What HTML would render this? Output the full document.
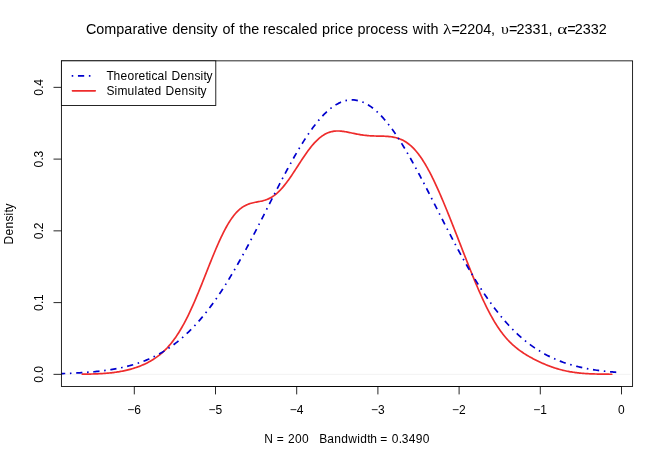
<!DOCTYPE html>
<html><head><meta charset="utf-8"><title>Density plot</title>
<style>
html,body{margin:0;padding:0;background:#fff;}
body{width:664px;height:463px;overflow:hidden;position:relative;font-family:"Liberation Sans",sans-serif;}
svg{will-change:transform;}
text{white-space:pre;}
.g{font-family:"Liberation Serif",serif;}
</style></head><body>
<svg width="664" height="463" viewBox="0 0 664 463" style="position:absolute;left:0;top:0">
<rect width="664" height="463" fill="#fff"/>
<defs><clipPath id="c"><rect x="61.4" y="60.85" width="571.20" height="325.65"/></clipPath></defs>
<line x1="61.4" y1="374.35" x2="630.6" y2="374.35" stroke="#d3d3d3" stroke-width="0.3"/>
<g clip-path="url(#c)" fill="none" stroke-linejoin="round">
<path d="M82.33,374.19 L83.37,374.17 L84.40,374.16 L85.44,374.14 L86.48,374.12 L87.51,374.10 L88.55,374.08 L89.58,374.06 L90.62,374.03 L91.66,374.01 L92.69,373.98 L93.73,373.94 L94.76,373.91 L95.80,373.87 L96.84,373.83 L97.87,373.78 L98.91,373.73 L99.94,373.68 L100.98,373.62 L102.02,373.56 L103.05,373.50 L104.09,373.43 L105.13,373.35 L106.16,373.27 L107.20,373.18 L108.23,373.09 L109.27,372.99 L110.31,372.89 L111.34,372.78 L112.38,372.66 L113.41,372.54 L114.45,372.40 L115.49,372.26 L116.52,372.12 L117.56,371.96 L118.59,371.79 L119.63,371.62 L120.67,371.44 L121.70,371.25 L122.74,371.05 L123.77,370.84 L124.81,370.62 L125.85,370.39 L126.88,370.15 L127.92,369.90 L128.95,369.63 L129.99,369.36 L131.03,369.07 L132.06,368.78 L133.10,368.47 L134.13,368.15 L135.17,367.81 L136.21,367.46 L137.24,367.10 L138.28,366.73 L139.32,366.34 L140.35,365.93 L141.39,365.51 L142.42,365.08 L143.46,364.63 L144.50,364.16 L145.53,363.67 L146.57,363.16 L147.60,362.64 L148.64,362.10 L149.68,361.53 L150.71,360.95 L151.75,360.34 L152.78,359.70 L153.82,359.05 L154.86,358.37 L155.89,357.66 L156.93,356.92 L157.96,356.15 L159.00,355.36 L160.04,354.53 L161.07,353.67 L162.11,352.77 L163.14,351.84 L164.18,350.87 L165.22,349.86 L166.25,348.82 L167.29,347.73 L168.32,346.60 L169.36,345.42 L170.40,344.20 L171.43,342.94 L172.47,341.62 L173.50,340.26 L174.54,338.85 L175.58,337.39 L176.61,335.88 L177.65,334.31 L178.69,332.70 L179.72,331.03 L180.76,329.30 L181.79,327.53 L182.83,325.70 L183.87,323.82 L184.90,321.88 L185.94,319.90 L186.97,317.86 L188.01,315.77 L189.05,313.63 L190.08,311.45 L191.12,309.21 L192.15,306.94 L193.19,304.62 L194.23,302.26 L195.26,299.86 L196.30,297.42 L197.33,294.95 L198.37,292.46 L199.41,289.93 L200.44,287.38 L201.48,284.81 L202.51,282.22 L203.55,279.62 L204.59,277.01 L205.62,274.39 L206.66,271.77 L207.69,269.16 L208.73,266.54 L209.77,263.94 L210.80,261.36 L211.84,258.79 L212.87,256.24 L213.91,253.72 L214.95,251.24 L215.98,248.78 L217.02,246.37 L218.06,244.00 L219.09,241.68 L220.13,239.41 L221.16,237.19 L222.20,235.03 L223.24,232.93 L224.27,230.89 L225.31,228.92 L226.34,227.02 L227.38,225.19 L228.42,223.43 L229.45,221.75 L230.49,220.15 L231.52,218.62 L232.56,217.17 L233.60,215.80 L234.63,214.50 L235.67,213.29 L236.70,212.15 L237.74,211.09 L238.78,210.11 L239.81,209.19 L240.85,208.35 L241.88,207.58 L242.92,206.88 L243.96,206.24 L244.99,205.66 L246.03,205.14 L247.06,204.67 L248.10,204.25 L249.14,203.88 L250.17,203.54 L251.21,203.24 L252.24,202.97 L253.28,202.72 L254.32,202.50 L255.35,202.29 L256.39,202.09 L257.43,201.89 L258.46,201.70 L259.50,201.50 L260.53,201.28 L261.57,201.06 L262.61,200.81 L263.64,200.53 L264.68,200.23 L265.71,199.89 L266.75,199.52 L267.79,199.10 L268.82,198.64 L269.86,198.14 L270.89,197.58 L271.93,196.98 L272.97,196.32 L274.00,195.60 L275.04,194.83 L276.07,194.00 L277.11,193.12 L278.15,192.17 L279.18,191.18 L280.22,190.12 L281.25,189.01 L282.29,187.85 L283.33,186.64 L284.36,185.38 L285.40,184.07 L286.43,182.72 L287.47,181.32 L288.51,179.89 L289.54,178.43 L290.58,176.93 L291.62,175.41 L292.65,173.86 L293.69,172.30 L294.72,170.72 L295.76,169.12 L296.80,167.52 L297.83,165.92 L298.87,164.32 L299.90,162.72 L300.94,161.14 L301.98,159.56 L303.01,158.00 L304.05,156.47 L305.08,154.95 L306.12,153.47 L307.16,152.02 L308.19,150.60 L309.23,149.21 L310.26,147.87 L311.30,146.57 L312.34,145.31 L313.37,144.10 L314.41,142.94 L315.44,141.84 L316.48,140.78 L317.52,139.78 L318.55,138.83 L319.59,137.94 L320.62,137.10 L321.66,136.32 L322.70,135.60 L323.73,134.93 L324.77,134.32 L325.80,133.76 L326.84,133.26 L327.88,132.82 L328.91,132.43 L329.95,132.08 L330.99,131.79 L332.02,131.55 L333.06,131.35 L334.09,131.20 L335.13,131.09 L336.17,131.02 L337.20,130.98 L338.24,130.98 L339.27,131.02 L340.31,131.08 L341.35,131.17 L342.38,131.29 L343.42,131.43 L344.45,131.58 L345.49,131.75 L346.53,131.94 L347.56,132.14 L348.60,132.35 L349.63,132.56 L350.67,132.78 L351.71,133.00 L352.74,133.22 L353.78,133.44 L354.81,133.65 L355.85,133.86 L356.89,134.07 L357.92,134.26 L358.96,134.45 L359.99,134.63 L361.03,134.80 L362.07,134.95 L363.10,135.10 L364.14,135.23 L365.17,135.35 L366.21,135.46 L367.25,135.56 L368.28,135.65 L369.32,135.73 L370.36,135.79 L371.39,135.85 L372.43,135.90 L373.46,135.94 L374.50,135.98 L375.54,136.01 L376.57,136.03 L377.61,136.05 L378.64,136.07 L379.68,136.09 L380.72,136.11 L381.75,136.14 L382.79,136.17 L383.82,136.20 L384.86,136.25 L385.90,136.30 L386.93,136.36 L387.97,136.44 L389.00,136.53 L390.04,136.65 L391.08,136.78 L392.11,136.93 L393.15,137.10 L394.18,137.30 L395.22,137.53 L396.26,137.79 L397.29,138.08 L398.33,138.41 L399.36,138.77 L400.40,139.17 L401.44,139.61 L402.47,140.09 L403.51,140.61 L404.55,141.18 L405.58,141.81 L406.62,142.48 L407.65,143.20 L408.69,143.97 L409.73,144.80 L410.76,145.69 L411.80,146.63 L412.83,147.63 L413.87,148.69 L414.91,149.80 L415.94,150.98 L416.98,152.22 L418.01,153.52 L419.05,154.88 L420.09,156.31 L421.12,157.79 L422.16,159.33 L423.19,160.93 L424.23,162.59 L425.27,164.30 L426.30,166.08 L427.34,167.90 L428.37,169.79 L429.41,171.72 L430.45,173.70 L431.48,175.74 L432.52,177.81 L433.55,179.94 L434.59,182.11 L435.63,184.32 L436.66,186.56 L437.70,188.85 L438.73,191.17 L439.77,193.52 L440.81,195.91 L441.84,198.33 L442.88,200.77 L443.92,203.24 L444.95,205.73 L445.99,208.25 L447.02,210.78 L448.06,213.34 L449.10,215.91 L450.13,218.49 L451.17,221.10 L452.20,223.71 L453.24,226.33 L454.28,228.97 L455.31,231.61 L456.35,234.26 L457.38,236.92 L458.42,239.57 L459.46,242.24 L460.49,244.90 L461.53,247.56 L462.56,250.22 L463.60,252.87 L464.64,255.52 L465.67,258.17 L466.71,260.80 L467.74,263.43 L468.78,266.04 L469.82,268.64 L470.85,271.22 L471.89,273.79 L472.92,276.33 L473.96,278.86 L475.00,281.36 L476.03,283.84 L477.07,286.29 L478.10,288.71 L479.14,291.09 L480.18,293.45 L481.21,295.77 L482.25,298.05 L483.29,300.30 L484.32,302.50 L485.36,304.67 L486.39,306.79 L487.43,308.86 L488.47,310.89 L489.50,312.88 L490.54,314.81 L491.57,316.70 L492.61,318.54 L493.65,320.33 L494.68,322.07 L495.72,323.76 L496.75,325.40 L497.79,326.99 L498.83,328.53 L499.86,330.02 L500.90,331.46 L501.93,332.85 L502.97,334.20 L504.01,335.50 L505.04,336.75 L506.08,337.96 L507.11,339.13 L508.15,340.26 L509.19,341.34 L510.22,342.39 L511.26,343.40 L512.29,344.38 L513.33,345.32 L514.37,346.23 L515.40,347.11 L516.44,347.96 L517.48,348.78 L518.51,349.57 L519.55,350.34 L520.58,351.09 L521.62,351.82 L522.66,352.52 L523.69,353.21 L524.73,353.87 L525.76,354.52 L526.80,355.16 L527.84,355.78 L528.87,356.38 L529.91,356.97 L530.94,357.55 L531.98,358.12 L533.02,358.67 L534.05,359.21 L535.09,359.74 L536.12,360.27 L537.16,360.78 L538.20,361.28 L539.23,361.77 L540.27,362.25 L541.30,362.73 L542.34,363.19 L543.38,363.64 L544.41,364.09 L545.45,364.52 L546.48,364.94 L547.52,365.36 L548.56,365.76 L549.59,366.15 L550.63,366.54 L551.66,366.91 L552.70,367.27 L553.74,367.62 L554.77,367.96 L555.81,368.29 L556.85,368.61 L557.88,368.92 L558.92,369.22 L559.95,369.51 L560.99,369.78 L562.03,370.05 L563.06,370.30 L564.10,370.54 L565.13,370.78 L566.17,371.00 L567.21,371.21 L568.24,371.41 L569.28,371.60 L570.31,371.79 L571.35,371.96 L572.39,372.12 L573.42,372.28 L574.46,372.42 L575.49,372.56 L576.53,372.69 L577.57,372.81 L578.60,372.93 L579.64,373.04 L580.67,373.14 L581.71,373.23 L582.75,373.32 L583.78,373.40 L584.82,373.48 L585.85,373.55 L586.89,373.61 L587.93,373.67 L588.96,373.73 L590.00,373.78 L591.03,373.83 L592.07,373.87 L593.11,373.91 L594.14,373.95 L595.18,373.98 L596.22,374.01 L597.25,374.04 L598.29,374.07 L599.32,374.09 L600.36,374.11 L601.40,374.13 L602.43,374.15 L603.47,374.16 L604.50,374.18 L605.54,374.19 L606.58,374.20 L607.61,374.21 L608.65,374.22 L609.68,374.23 L610.72,374.24 L611.76,374.25" stroke="#ee2c2c" stroke-width="1.7" stroke-linecap="round"/>
<path d="M53.10,373.82 L54.51,373.79 L55.92,373.75 L57.34,373.72 L58.75,373.68 L60.16,373.64 L61.57,373.60 L62.99,373.55 L64.40,373.51 L65.81,373.46 L67.22,373.41 L68.63,373.35 L70.05,373.30 L71.46,373.23 L72.87,373.17 L74.28,373.10 L75.70,373.03 L77.11,372.96 L78.52,372.88 L79.93,372.80 L81.34,372.72 L82.76,372.63 L84.17,372.53 L85.58,372.44 L86.99,372.33 L88.41,372.22 L89.82,372.11 L91.23,371.99 L92.64,371.87 L94.06,371.74 L95.47,371.60 L96.88,371.46 L98.29,371.31 L99.70,371.15 L101.12,370.99 L102.53,370.82 L103.94,370.64 L105.35,370.46 L106.77,370.26 L108.18,370.06 L109.59,369.85 L111.00,369.63 L112.41,369.40 L113.83,369.16 L115.24,368.91 L116.65,368.65 L118.06,368.38 L119.48,368.10 L120.89,367.81 L122.30,367.50 L123.71,367.18 L125.12,366.85 L126.54,366.51 L127.95,366.15 L129.36,365.78 L130.77,365.40 L132.19,365.00 L133.60,364.59 L135.01,364.16 L136.42,363.71 L137.83,363.25 L139.25,362.77 L140.66,362.28 L142.07,361.77 L143.48,361.24 L144.90,360.69 L146.31,360.12 L147.72,359.53 L149.13,358.92 L150.55,358.29 L151.96,357.64 L153.37,356.97 L154.78,356.28 L156.19,355.56 L157.61,354.82 L159.02,354.06 L160.43,353.27 L161.84,352.46 L163.26,351.63 L164.67,350.77 L166.08,349.88 L167.49,348.97 L168.90,348.03 L170.32,347.07 L171.73,346.07 L173.14,345.05 L174.55,344.00 L175.97,342.92 L177.38,341.81 L178.79,340.68 L180.20,339.51 L181.61,338.31 L183.03,337.08 L184.44,335.82 L185.85,334.53 L187.26,333.21 L188.68,331.85 L190.09,330.46 L191.50,329.04 L192.91,327.59 L194.32,326.10 L195.74,324.58 L197.15,323.03 L198.56,321.44 L199.97,319.82 L201.39,318.17 L202.80,316.48 L204.21,314.76 L205.62,313.00 L207.04,311.21 L208.45,309.38 L209.86,307.52 L211.27,305.63 L212.68,303.70 L214.10,301.74 L215.51,299.74 L216.92,297.71 L218.33,295.65 L219.75,293.56 L221.16,291.43 L222.57,289.27 L223.98,287.08 L225.39,284.85 L226.81,282.60 L228.22,280.31 L229.63,278.00 L231.04,275.66 L232.46,273.28 L233.87,270.88 L235.28,268.45 L236.69,266.00 L238.10,263.52 L239.52,261.01 L240.93,258.48 L242.34,255.93 L243.75,253.35 L245.17,250.75 L246.58,248.13 L247.99,245.49 L249.40,242.84 L250.81,240.16 L252.23,237.47 L253.64,234.77 L255.05,232.05 L256.46,229.32 L257.88,226.57 L259.29,223.82 L260.70,221.06 L262.11,218.29 L263.53,215.52 L264.94,212.74 L266.35,209.96 L267.76,207.18 L269.17,204.40 L270.59,201.62 L272.00,198.84 L273.41,196.07 L274.82,193.31 L276.24,190.55 L277.65,187.81 L279.06,185.08 L280.47,182.36 L281.88,179.65 L283.30,176.96 L284.71,174.30 L286.12,171.65 L287.53,169.02 L288.95,166.42 L290.36,163.84 L291.77,161.30 L293.18,158.78 L294.59,156.29 L296.01,153.83 L297.42,151.41 L298.83,149.03 L300.24,146.68 L301.66,144.38 L303.07,142.11 L304.48,139.89 L305.89,137.71 L307.30,135.58 L308.72,133.50 L310.13,131.47 L311.54,129.49 L312.95,127.56 L314.37,125.69 L315.78,123.87 L317.19,122.11 L318.60,120.40 L320.02,118.76 L321.43,117.18 L322.84,115.66 L324.25,114.20 L325.66,112.81 L327.08,111.49 L328.49,110.23 L329.90,109.04 L331.31,107.92 L332.73,106.87 L334.14,105.89 L335.55,104.98 L336.96,104.14 L338.37,103.38 L339.79,102.69 L341.20,102.07 L342.61,101.53 L344.02,101.07 L345.44,100.68 L346.85,100.37 L348.26,100.13 L349.67,99.97 L351.08,99.88 L352.50,99.88 L353.91,99.95 L355.32,100.09 L356.73,100.31 L358.15,100.61 L359.56,100.99 L360.97,101.44 L362.38,101.96 L363.79,102.56 L365.21,103.23 L366.62,103.98 L368.03,104.80 L369.44,105.70 L370.86,106.66 L372.27,107.70 L373.68,108.81 L375.09,109.98 L376.51,111.23 L377.92,112.54 L379.33,113.92 L380.74,115.36 L382.15,116.87 L383.57,118.44 L384.98,120.07 L386.39,121.76 L387.80,123.51 L389.22,125.32 L390.63,127.18 L392.04,129.10 L393.45,131.07 L394.86,133.09 L396.28,135.16 L397.69,137.28 L399.10,139.45 L400.51,141.66 L401.93,143.92 L403.34,146.22 L404.75,148.56 L406.16,150.93 L407.57,153.35 L408.99,155.79 L410.40,158.28 L411.81,160.79 L413.22,163.33 L414.64,165.90 L416.05,168.50 L417.46,171.12 L418.87,173.76 L420.28,176.43 L421.70,179.11 L423.11,181.81 L424.52,184.53 L425.93,187.26 L427.35,190.00 L428.76,192.76 L430.17,195.52 L431.58,198.29 L433.00,201.06 L434.41,203.84 L435.82,206.62 L437.23,209.40 L438.64,212.18 L440.06,214.96 L441.47,217.74 L442.88,220.51 L444.29,223.27 L445.71,226.02 L447.12,228.77 L448.53,231.50 L449.94,234.22 L451.35,236.93 L452.77,239.62 L454.18,242.30 L455.59,244.96 L457.00,247.60 L458.42,250.23 L459.83,252.83 L461.24,255.41 L462.65,257.97 L464.06,260.50 L465.48,263.02 L466.89,265.50 L468.30,267.96 L469.71,270.40 L471.13,272.80 L472.54,275.18 L473.95,277.53 L475.36,279.85 L476.77,282.14 L478.19,284.40 L479.60,286.63 L481.01,288.83 L482.42,291.00 L483.84,293.13 L485.25,295.23 L486.66,297.30 L488.07,299.34 L489.48,301.34 L490.90,303.31 L492.31,305.24 L493.72,307.14 L495.13,309.01 L496.55,310.84 L497.96,312.64 L499.37,314.41 L500.78,316.14 L502.20,317.83 L503.61,319.49 L505.02,321.12 L506.43,322.72 L507.84,324.28 L509.26,325.80 L510.67,327.30 L512.08,328.76 L513.49,330.18 L514.91,331.58 L516.32,332.94 L517.73,334.27 L519.14,335.57 L520.55,336.83 L521.97,338.07 L523.38,339.27 L524.79,340.45 L526.20,341.59 L527.62,342.70 L529.03,343.79 L530.44,344.84 L531.85,345.87 L533.26,346.87 L534.68,347.84 L536.09,348.78 L537.50,349.70 L538.91,350.59 L540.33,351.46 L541.74,352.30 L543.15,353.11 L544.56,353.90 L545.97,354.67 L547.39,355.41 L548.80,356.13 L550.21,356.83 L551.62,357.51 L553.04,358.16 L554.45,358.80 L555.86,359.41 L557.27,360.00 L558.69,360.57 L560.10,361.13 L561.51,361.66 L562.92,362.18 L564.33,362.68 L565.75,363.16 L567.16,363.62 L568.57,364.07 L569.98,364.50 L571.40,364.92 L572.81,365.32 L574.22,365.71 L575.63,366.08 L577.04,366.44 L578.46,366.79 L579.87,367.12 L581.28,367.44 L582.69,367.75 L584.11,368.04 L585.52,368.32 L586.93,368.60 L588.34,368.86 L589.75,369.11 L591.17,369.35 L592.58,369.58 L593.99,369.81 L595.40,370.02 L596.82,370.22 L598.23,370.42 L599.64,370.61 L601.05,370.78 L602.46,370.96 L603.88,371.12 L605.29,371.28 L606.70,371.43 L608.11,371.57 L609.53,371.71 L610.94,371.84 L612.35,371.97 L613.76,372.09 L615.18,372.20 L616.59,372.31" stroke="#0000cd" stroke-width="1.7" stroke-dasharray="1.561 4.683 6.244 4.683" stroke-dashoffset="0.35"/>
</g>
<g stroke="#000" stroke-width="0.85" fill="none" stroke-linecap="butt">
<rect x="61.4" y="60.85" width="571.20" height="325.65"/>
<line x1="134.30" y1="386.5" x2="621.50" y2="386.5"/>
<line x1="134.30" y1="386.5" x2="134.30" y2="394.40"/>
<line x1="215.50" y1="386.5" x2="215.50" y2="394.40"/>
<line x1="296.70" y1="386.5" x2="296.70" y2="394.40"/>
<line x1="377.90" y1="386.5" x2="377.90" y2="394.40"/>
<line x1="459.10" y1="386.5" x2="459.10" y2="394.40"/>
<line x1="540.30" y1="386.5" x2="540.30" y2="394.40"/>
<line x1="621.50" y1="386.5" x2="621.50" y2="394.40"/>
<line x1="61.4" y1="374.35" x2="53.50" y2="374.35"/>
<line x1="61.4" y1="302.60" x2="53.50" y2="302.60"/>
<line x1="61.4" y1="230.85" x2="53.50" y2="230.85"/>
<line x1="61.4" y1="159.10" x2="53.50" y2="159.10"/>
<line x1="61.4" y1="87.35" x2="53.50" y2="87.35"/>
<rect x="61.4" y="60.85" width="154.40" height="44.60" fill="#fff"/>
</g>
<line x1="71.7" y1="75.9" x2="94.5" y2="75.9" stroke="#0000cd" stroke-width="1.7" stroke-dasharray="1.561 4.683 6.244 4.683"/>
<line x1="72.4" y1="90.85" x2="95.3" y2="90.85" stroke="#ee2c2c" stroke-width="1.6" stroke-linecap="round"/>
<g font-family="'Liberation Sans', sans-serif" fill="#000" style="filter:grayscale(1)">
<text transform="translate(0,80.00) scale(1,1.025)" x="106.60 113.60 120.60 127.60 134.60 138.60 145.60 148.60 151.60 157.60 164.60" y="0" font-size="12px">Theoretical</text>
<text transform="translate(0,80.00) scale(1,1.025)" x="171.40 180.40 187.40 194.40 200.40 203.40 206.40" y="0" font-size="12px">Density</text>
<text transform="translate(0,95.00) scale(1,1.025)" x="106.60 114.60 117.60 127.60 134.60 137.60 144.60 147.60 154.60" y="0" font-size="12px">Simulated</text>
<text transform="translate(0,95.00) scale(1,1.025)" x="165.40 174.40 181.40 188.40 194.40 197.40 200.40" y="0" font-size="12px">Density</text>
<text transform="translate(0,414.00) scale(1,1.025)" x="127.30 134.30" y="0" font-size="12px">−6</text>
<text transform="translate(0,414.00) scale(1,1.025)" x="208.50 215.50" y="0" font-size="12px">−5</text>
<text transform="translate(0,414.00) scale(1,1.025)" x="289.70 296.70" y="0" font-size="12px">−4</text>
<text transform="translate(0,414.00) scale(1,1.025)" x="370.90 377.90" y="0" font-size="12px">−3</text>
<text transform="translate(0,414.00) scale(1,1.025)" x="452.10 459.10" y="0" font-size="12px">−2</text>
<text transform="translate(0,414.00) scale(1,1.025)" x="533.30 540.30" y="0" font-size="12px">−1</text>
<text transform="translate(0,414.00) scale(1,1.025)" x="618.00" y="0" font-size="12px">0</text>
<text transform="translate(43.00,382.85) rotate(-90) scale(1,1.025)" x="0.00 7.00 10.00" y="0" font-size="12px">0.0</text>
<text transform="translate(43.00,311.10) rotate(-90) scale(1,1.025)" x="0.00 7.00 10.00" y="0" font-size="12px">0.1</text>
<text transform="translate(43.00,239.35) rotate(-90) scale(1,1.025)" x="0.00 7.00 10.00" y="0" font-size="12px">0.2</text>
<text transform="translate(43.00,167.60) rotate(-90) scale(1,1.025)" x="0.00 7.00 10.00" y="0" font-size="12px">0.3</text>
<text transform="translate(43.00,95.85) rotate(-90) scale(1,1.025)" x="0.00 7.00 10.00" y="0" font-size="12px">0.4</text>
<text transform="translate(13.00,244.40) rotate(-90) scale(1,1.025)" x="0.00 9.00 16.00 23.00 29.00 32.00 35.00" y="0" font-size="12px">Density</text>
<text transform="translate(0,443.00) scale(1,1.025)" x="264.37" y="0" font-size="12px">N</text>
<text transform="translate(0,443.00) scale(1,1.025)" x="276.86" y="0" font-size="12px">=</text>
<text transform="translate(0,443.00) scale(1,1.025)" x="287.95 294.95 301.95" y="0" font-size="12px">200</text>
<text transform="translate(0,443.00) scale(1,1.025)" x="319.27 327.27 334.27 341.27 348.27 357.27 360.27 367.27 370.27" y="0" font-size="12px">Bandwidth</text>
<text transform="translate(0,443.00) scale(1,1.025)" x="380.26" y="0" font-size="12px">=</text>
<text transform="translate(0,443.00) scale(1,1.025)" x="391.68 398.68 401.68 408.68 415.68 422.68" y="0" font-size="12px">0.3490</text>
<text transform="translate(0,34.00) scale(1,1.025)" x="85.97 96.37 104.38 116.37 124.38 132.39 137.18 145.19 149.19 152.39 159.59" y="0" font-size="14.4px">Comparative</text>
<text transform="translate(0,34.00) scale(1,1.025)" x="172.20 180.20 188.21 196.22 203.42 206.62 210.62" y="0" font-size="14.4px">density</text>
<text transform="translate(0,34.00) scale(1,1.025)" x="222.50 230.50" y="0" font-size="14.4px">of</text>
<text transform="translate(0,34.00) scale(1,1.025)" x="239.28 243.28 251.29" y="0" font-size="14.4px">the</text>
<text transform="translate(0,34.00) scale(1,1.025)" x="263.04 267.84 275.85 283.05 290.25 298.26 301.46 309.46" y="0" font-size="14.4px">rescaled</text>
<text transform="translate(0,34.00) scale(1,1.025)" x="322.07 330.08 334.88 338.07 345.27" y="0" font-size="14.4px">price</text>
<text transform="translate(0,34.00) scale(1,1.025)" x="357.47 365.48 370.28 378.28 385.48 393.49 400.69" y="0" font-size="14.4px">process</text>
<text transform="translate(0,34.00) scale(1,1.025)" x="412.82 423.22 426.42 430.42" y="0" font-size="14.4px">with</text>
<text transform="translate(0,34.00) scale(1,1.025)" x="451.60" y="0" font-size="14.4px">=</text>
<text transform="translate(0,34.00) scale(1,1.025)" x="459.18 467.18 475.19 483.20" y="0" font-size="14.4px">2204</text>
<text transform="translate(0,34.00) scale(1,1.025)" x="491.11" y="0" font-size="14.4px">,</text>
<text transform="translate(0,34.00) scale(1,1.025)" x="509.00" y="0" font-size="14.4px">=</text>
<text transform="translate(0,34.00) scale(1,1.025)" x="516.58 524.58 532.59 540.60" y="0" font-size="14.4px">2331</text>
<text transform="translate(0,34.00) scale(1,1.025)" x="548.51" y="0" font-size="14.4px">,</text>
<text transform="translate(0,34.00) scale(1,1.025)" x="567.20" y="0" font-size="14.4px">=</text>
<text transform="translate(0,34.00) scale(1,1.025)" x="574.78 582.78 590.79 598.80" y="0" font-size="14.4px">2332</text>
<text class="g" transform="translate(443.04,34) scale(1.211,1.025)" x="0" y="0" font-size="14.4px">λ</text>
<text class="g" transform="translate(501.09,34) scale(1.099,1.025)" x="0" y="0" font-size="14.4px">υ</text>
<text class="g" transform="translate(557.37,34) scale(1.334,1.025)" x="0" y="0" font-size="14.4px">α</text>
</g>
</svg>
</body></html>
